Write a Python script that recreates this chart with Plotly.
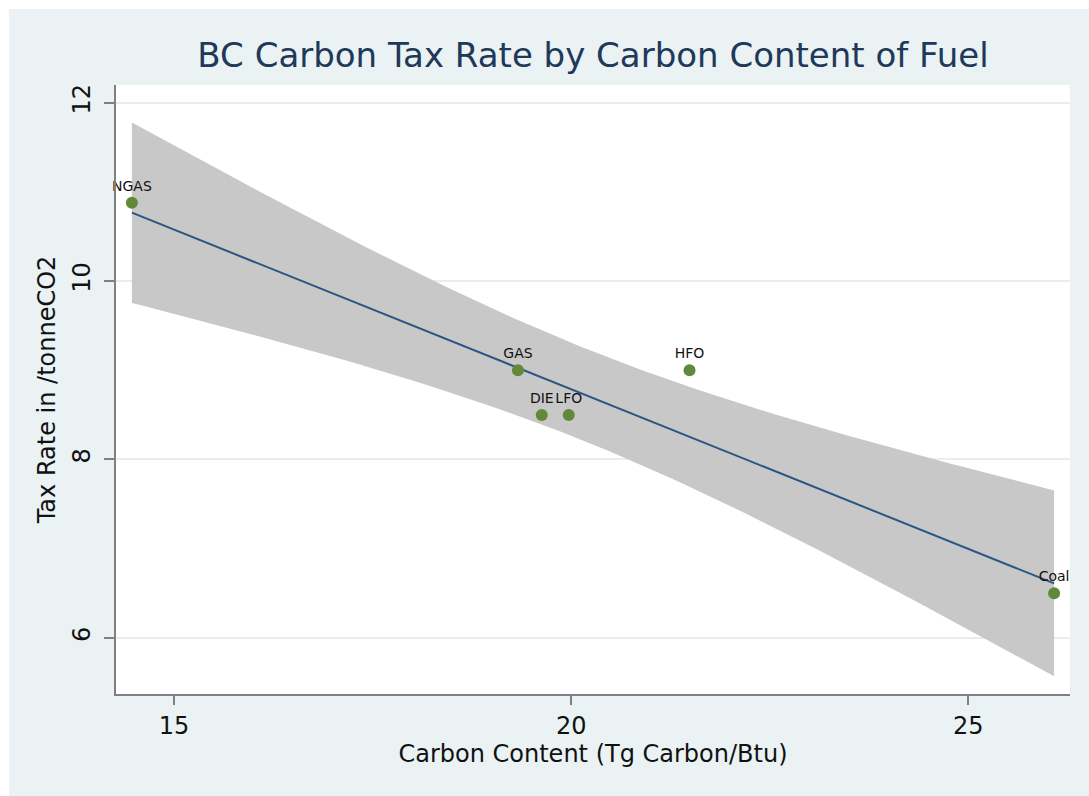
import numpy as np
import plotly.graph_objects as go

# Data
fuels = ["NGAS", "GAS", "DIE", "LFO", "HFO", "Coal"]
carbon_content = [14.47, 19.33, 19.63, 19.97, 21.49, 26.08]
tax_rate = [10.88, 9.0, 8.5, 8.5, 9.0, 6.5]
x_ticks = [15, 20, 25]
y_ticks = [6, 8, 10, 12]

# Linear fit with 95% CI (as Stata lfitci)
x = np.array(carbon_content)
y = np.array(tax_rate)
n = len(x)
slope, intercept = np.polyfit(x, y, 1)
resid = y - (intercept + slope * x)
s = np.sqrt(np.sum(resid ** 2) / (n - 2))
sxx = np.sum((x - x.mean()) ** 2)
tcrit = 2.776  # t(0.975, df=4)
xs = np.linspace(x.min(), x.max(), 100)
fit = intercept + slope * xs
se = s * np.sqrt(1.0 / n + (xs - x.mean()) ** 2 / sxx)
lo = fit - tcrit * se
hi = fit + tcrit * se

FONT = "DejaVu Sans"
BG = "#eaf2f4"

fig = go.Figure()
fig.add_trace(go.Scatter(
    x=np.concatenate([xs, xs[::-1]]), y=np.concatenate([hi, lo[::-1]]),
    fill="toself", fillcolor="#c8c8c8", line=dict(width=0),
    mode="lines", hoverinfo="skip", showlegend=False))
fig.add_trace(go.Scatter(
    x=xs, y=fit, mode="lines", line=dict(color="#2b5683", width=2),
    showlegend=False))
fig.add_trace(go.Scatter(
    x=carbon_content, y=tax_rate, mode="markers+text", text=fuels,
    textposition="top center", textfont=dict(family=FONT, size=14, color="#111111"),
    marker=dict(color="#62893a", size=12), showlegend=False, cliponaxis=False))

L, R, T, B = 116, 1070, 85, 694
W, H = 1089, 796

fig.update_layout(
    width=W, height=H,
    margin=dict(l=L, r=W - R, t=T, b=H - B),
    paper_bgcolor=BG, plot_bgcolor="white",
    title=dict(text="BC Carbon Tax Rate by Carbon Content of Fuel",
               x=(L + R) / 2 / W, xanchor="center",
               y=1 - 55 / H, yanchor="middle",
               font=dict(family=FONT, size=34, color="#213858")),
    xaxis=dict(range=[14.27, 26.28], tickvals=x_ticks, showgrid=False, zeroline=False,
               showline=True, linecolor="#808080", linewidth=2,
               ticks="outside", ticklen=9, tickcolor="#808080", tickwidth=2,
               tickfont=dict(family=FONT, size=24, color="#111111"),
               title=dict(text="Carbon Content (Tg Carbon/Btu)", standoff=2,
                          font=dict(family=FONT, size=24, color="#111111"))),
    yaxis=dict(range=[5.37, 12.2], tickvals=y_ticks, showgrid=True, gridcolor="#ececec",
               gridwidth=1.5, zeroline=False, showline=True, linecolor="#808080", linewidth=2,
               ticks="outside", ticklen=10, tickcolor="#808080", tickwidth=2,
               tickangle=-90, ticklabelstandoff=4,
               tickfont=dict(family=FONT, size=24, color="#111111"),
               title=dict(text="Tax Rate in /tonneCO2", standoff=6,
                          font=dict(family=FONT, size=24, color="#111111"))),
    shapes=[
        dict(type="rect", xref="paper", yref="paper",
             x0=-L / (R - L), x1=(9 - L) / (R - L), y0=(B - H) / (B - T), y1=B / (B - T),
             fillcolor="white", line=dict(width=0), layer="below"),
        dict(type="rect", xref="paper", yref="paper",
             x0=-L / (R - L), x1=(W - L) / (R - L), y0=(B - 9) / (B - T), y1=B / (B - T),
             fillcolor="white", line=dict(width=0), layer="below"),
    ],
)

fig.write_html("out.html")
